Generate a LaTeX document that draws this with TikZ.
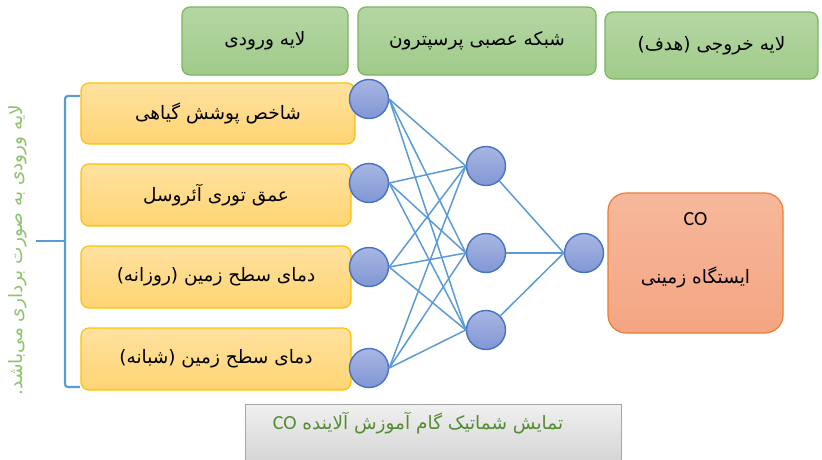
\documentclass[tikz,border=0pt]{standalone}
\usepackage{fontspec}
\setmainfont{Carlito}
\TeXXeTstate=1
\newfontfamily\fa[Script=Arabic]{DejaVu Sans}
\usetikzlibrary{positioning}
\definecolor{gborder}{RGB}{125,180,95}
\definecolor{gtop}{RGB}{180,214,163}
\definecolor{gbot}{RGB}{160,203,138}
\definecolor{yborder}{RGB}{255,192,0}
\definecolor{ytop}{RGB}{255,226,160}
\definecolor{ybot}{RGB}{255,212,115}
\definecolor{oborder}{RGB}{237,125,49}
\definecolor{otop}{RGB}{246,184,155}
\definecolor{obot}{RGB}{244,165,130}
\definecolor{nborder}{RGB}{72,114,196}
\definecolor{ntop}{RGB}{168,182,226}
\definecolor{nbot}{RGB}{128,150,212}
\definecolor{edgec}{RGB}{91,155,213}
\definecolor{sidegreen}{RGB}{140,196,105}
\definecolor{capgreen}{RGB}{84,140,52}
\tikzset{
  fatext/.style={font=\fa\fontsize{18.5}{22}\selectfont},
  header/.style={draw=gborder, line width=1.2pt, rounded corners=8pt, top color=gtop, bottom color=gbot, minimum height=68pt, align=center, fatext},
  inbox/.style={draw=yborder, line width=1.2pt, rounded corners=8pt, top color=ytop, bottom color=ybot, minimum width=270pt, minimum height=62pt, fatext},
  neuron/.style={circle, draw=nborder, line width=1.4pt, top color=ntop, bottom color=nbot, minimum size=39pt, inner sep=0pt},
  link/.style={draw=edgec, line width=1.5pt},
  outbox/.style={draw=oborder, line width=1.2pt, rounded corners=18pt, top color=otop, bottom color=obot, minimum width=175pt, minimum height=140pt},
  capbox/.style={draw=gray!70, line width=1.2pt, top color=gray!12, bottom color=gray!35, minimum width=376pt, minimum height=62pt},
  bracketline/.style={draw=edgec, line width=2.2pt, rounded corners=3pt}
}
\begin{document}
\begin{tikzpicture}[x=1pt,y=-1pt]
\useasboundingbox (0,0) rectangle (822,459);
% headers
\node[header, minimum width=166pt] (h1) at (265,41) {\beginR لایه ورودی\endR};
\node[header, minimum width=238pt] (h2) at (477,41) {\beginR شبکه عصبی پرسپترون\endR};
\node[header, minimum width=213pt, minimum height=67pt] (h3) at (711.5,45.5) {\beginR لایه خروجی (هدف)\endR};
% input boxes
\node[inbox, minimum width=274pt, minimum height=61pt] (y1) at (218,113.5) {\beginR شاخص پوشش گیاهی\endR};
\node[inbox] (y2) at (216,195) {\beginR عمق توری آئروسل\endR};
\node[inbox] (y3) at (216,277) {\beginR دمای سطح زمین (روزانه)\endR};
\node[inbox] (y4) at (216,359) {\beginR دمای سطح زمین (شبانه)\endR};
% neurons
\node[neuron] (i1) at (369,99) {};
\node[neuron] (i2) at (369,183) {};
\node[neuron] (i3) at (369,267) {};
\node[neuron] (i4) at (369,368) {};
\node[neuron] (m1) at (486,166) {};
\node[neuron] (m2) at (486,253) {};
\node[neuron] (m3) at (486,330) {};
\node[neuron] (o) at (584,253) {};
% links
\foreach \a in {i1,i2,i3,i4}{
  \foreach \b in {m1,m2,m3}{
    \draw[link] (\a.east) -- (\b.west);
  }
}
\foreach \b in {m1,m2,m3}{
  \draw[link] (\b) -- (o.west);
}
% output box
\node[outbox] (out) at (695.5,263) {};
\node[font=\fontsize{20}{24}\selectfont] (outco) at (695.5,219) {CO};
\node[fatext] (outst) at (695.5,277) {\beginR ایستگاه زمینی\endR};
% caption box
\node[capbox, anchor=north west] (cap) at (245,404) {};
\node[text=capgreen, fatext] (capt) at (418,423) {\beginR تمایش شماتیک گام آموزش آلاینده {\fontsize{20}{24}\selectfont\rmfamily\beginL CO\endL}\endR};
% bracket
\draw[bracketline] (80,96) -- (65,96) -- (65,387) -- (80,387);
\draw[draw=edgec, line width=2.2pt] (65,241) -- (36,241);
% side text
\node[rotate=90, text=sidegreen, font=\fa\fontsize{18.5}{22}\selectfont] (side) at (18,250) {\beginR لایه ورودی به صورت برداری می‌باشد.\endR};
\end{tikzpicture}
\end{document}
